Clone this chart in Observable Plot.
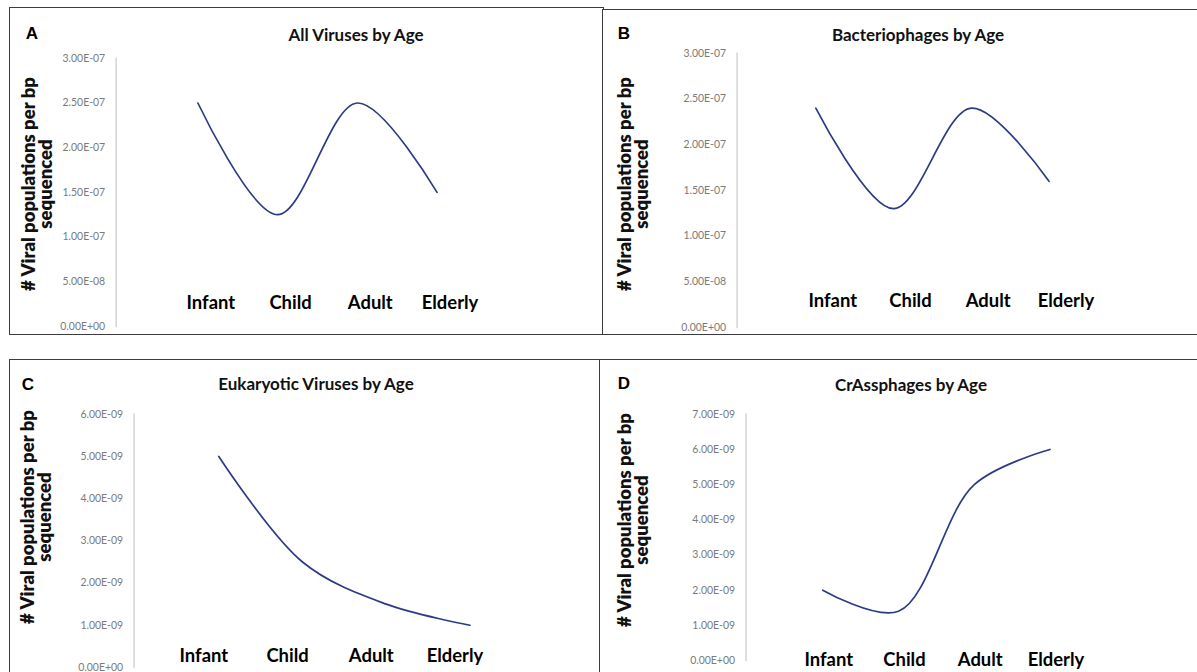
<!DOCTYPE html>
<html>
<head>
<meta charset="utf-8">
<script src="https://cdn.jsdelivr.net/npm/d3@7"></script>
<script src="https://cdn.jsdelivr.net/npm/@observablehq/plot@0.6"></script>
<style>
  html, body { margin: 0; padding: 0; background: #fff; }
  #root { position: relative; width: 1197px; height: 672px; overflow: hidden; background: #fff; font-family: Lato, "Open Sans", sans-serif; }
  .panel { position: absolute; border: 1.5px solid #3c3c3c; box-sizing: border-box; background: #fff; overflow: hidden; }
  .panel svg { position: absolute; left: 0; top: 0; }
  .letter { position: absolute; font: bold 17px "Liberation Sans", Arial, sans-serif; color: #000; transform: translate(-50%, -50%); }
  .title { position: absolute; font: bold 17px Lato, sans-serif; color: #111; transform: translate(-50%, -50%); white-space: nowrap; }
  .ylab { position: absolute; font: 800 18.5px Lato, sans-serif; color: #111; text-align: center; line-height: 17px; white-space: nowrap; transform: translate(-50%, -50%) rotate(-90deg); }
</style>
</head>
<body>
<div id="root"></div>
<script>
// ---- data ----
const ages = ["Infant", "Child", "Adult", "Elderly"];
const allViruses = [2.5e-7, 1.25e-7, 2.5e-7, 1.5e-7];
const bacteriophages = [2.4e-7, 1.3e-7, 2.4e-7, 1.6e-7];
const eukaryoticViruses = [5.0e-9, 2.5e-9, 1.5e-9, 1.0e-9];
const crassphages = [2.0e-9, 1.4e-9, 5.0e-9, 6.0e-9];
const ticksE7 = [0, 5e-8, 1e-7, 1.5e-7, 2e-7, 2.5e-7, 3e-7];
const ticksE9six = [0, 1e-9, 2e-9, 3e-9, 4e-9, 5e-9, 6e-9];
const ticksE9seven = [0, 1e-9, 2e-9, 3e-9, 4e-9, 5e-9, 6e-9, 7e-9];
const yLabel = "# Viral populations per bp\nsequenced";

function sci(d) {
  const [m, e] = d.toExponential(2).split("e");
  const sign = e[0] === "-" ? "-" : "+";
  const digits = e.replace(/[+-]/, "").padStart(2, "0");
  return m + "E" + sign + digits;
}

function makePanel(cfg) {
  const root = document.getElementById("root");
  const div = document.createElement("div");
  div.className = "panel";
  div.style.left = cfg.box[0] + "px";
  div.style.top = cfg.box[1] + "px";
  div.style.width = cfg.box[2] + "px";
  div.style.height = cfg.box[3] + "px";
  root.appendChild(div);

  const data = ages.map((a, i) => ({age: a, value: cfg.values[i]}));
  const chart = Plot.plot({
    width: cfg.box[2],
    height: cfg.box[3],
    marginLeft: cfg.axisX,
    marginTop: cfg.top,
    marginBottom: cfg.box[3] - cfg.bottom,
    marginRight: 0,
    style: {background: "transparent", fontFamily: "Lato, sans-serif", overflow: "visible"},
    x: {type: "point", domain: ages, range: cfg.xRange, padding: 0, axis: null},
    y: {domain: [0, cfg.ticks[cfg.ticks.length - 1]], axis: null},
    marks: [
      Plot.frame({anchor: "left", stroke: "#d4d4d4", strokeWidth: 1.5}),
      Plot.axisY({ticks: cfg.ticks, tickFormat: sci, tickSize: 0, tickPadding: 11, fontSize: 10.5, color: "#7a7a7a", label: null}),
      Plot.line(data, {x: "age", y: "value", curve: "catmull-rom", stroke: "#2d3b86", strokeWidth: 1.7}),
      Plot.text(ages, {x: d => d, text: d => d, frameAnchor: "bottom", lineAnchor: "middle", dy: cfg.labelY - cfg.bottom, dx: cfg.labelDx, fontSize: 18.5, fontWeight: "bold", fill: "#000"})
    ]
  });
  div.appendChild(chart);

  const letter = document.createElement("div");
  letter.className = "letter";
  letter.textContent = cfg.letter;
  letter.style.left = cfg.letterPos[0] + "px";
  letter.style.top = cfg.letterPos[1] + "px";
  div.appendChild(letter);

  const title = document.createElement("div");
  title.className = "title";
  title.textContent = cfg.title;
  title.style.left = cfg.titlePos[0] + "px";
  title.style.top = cfg.titlePos[1] + "px";
  div.appendChild(title);

  const yl = document.createElement("div");
  yl.className = "ylab";
  yl.innerHTML = yLabel.replace("\n", "<br>");
  yl.style.left = cfg.ylabPos[0] + "px";
  yl.style.top = cfg.ylabPos[1] + "px";
  div.appendChild(yl);
}

makePanel({
  box: [9, 7, 595, 328], letter: "A", title: "All Viruses by Age",
  values: allViruses, ticks: ticksE7, axisX: 106, top: 50, bottom: 319,
  xRange: [187, 428], labelDx: 13, labelY: 296,
  letterPos: [22, 26], titlePos: [346, 26], ylabPos: [27, 176]
});
makePanel({
  box: [602, 9, 600, 326], letter: "B", title: "Bacteriophages by Age",
  values: bacteriophages, ticks: ticksE7, axisX: 134, top: 43, bottom: 318,
  xRange: [212, 448], labelDx: 17, labelY: 292,
  letterPos: [21, 24], titlePos: [315, 24], ylabPos: [30, 174]
});
makePanel({
  box: [9, 359, 592, 320], letter: "C", title: "Eukaryotic Viruses by Age",
  values: eukaryoticViruses, ticks: ticksE9six, axisX: 124, top: 54, bottom: 308,
  xRange: [208, 462], labelDx: -15, labelY: 297,
  letterPos: [18, 25], titlePos: [306, 23], ylabPos: [26, 157]
});
makePanel({
  box: [599, 359, 605, 320], letter: "D", title: "CrAssphages by Age",
  values: crassphages, ticks: ticksE9seven, axisX: 146, top: 54, bottom: 301,
  xRange: [222, 452], labelDx: 6, labelY: 301,
  letterPos: [24, 24], titlePos: [311, 24], ylabPos: [33, 160]
});
</script>
</body>
</html>
